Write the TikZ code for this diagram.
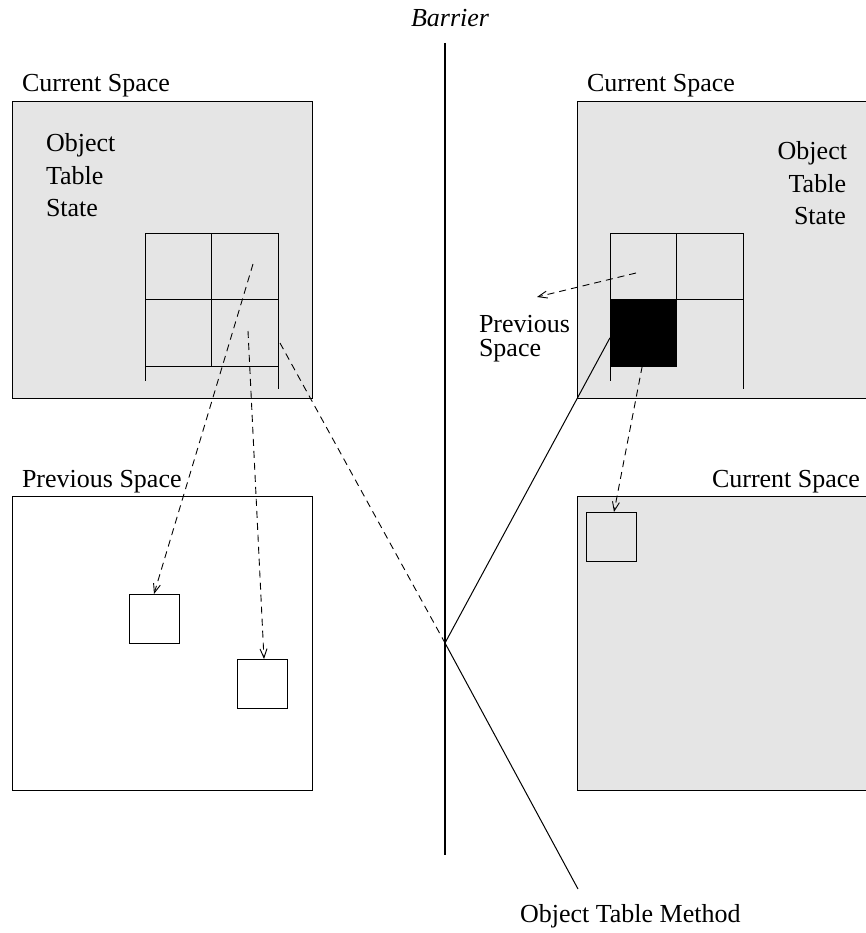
\documentclass[tikz,border=0pt]{standalone}
\usepackage{fontspec}
\setmainfont{Liberation Serif}
\usetikzlibrary{arrows.meta,calc}
\begin{document}
\begin{tikzpicture}[x=1pt,y=-1pt,
 lab/.style={font=\fontsize{26}{30}\selectfont, inner sep=0pt, outer sep=0pt, anchor=base west},
 labr/.style={lab, anchor=base east},
 spacebox/.style={draw=black, line width=1pt, inner sep=0pt, outer sep=0pt, anchor=north west},
 grayspace/.style={spacebox, fill=black!10},
 cell/.style={draw=black, line width=1pt, minimum width=66.5pt, minimum height=66.5pt, inner sep=0pt, outer sep=0pt, anchor=north west},
 objbox/.style={draw=black, line width=1pt, minimum width=50pt, minimum height=49pt, inner sep=0pt, outer sep=0pt, anchor=north west},
 darr/.style={dash pattern=on 7pt off 5pt, line width=0.9pt, -{Straight Barb[length=9pt,width=7pt]}},
 dline/.style={dash pattern=on 7pt off 5pt, line width=0.9pt},
 sline/.style={line width=1pt},
 barrier/.style={line width=1.6pt},
]
\useasboundingbox (0,0) rectangle (866,933);
\clip (0,0) rectangle (866,933);

% spaces
\node[grayspace, minimum width=300pt, minimum height=296pt] (TL) at (12,102) {};
\node[grayspace, minimum width=320pt, minimum height=296pt] (TR) at (577,102) {};
\node[spacebox, minimum width=300pt, minimum height=294pt] (BL) at (12,496) {};
\node[grayspace, minimum width=320pt, minimum height=294pt] (BR) at (577,496) {};

% labels
\node[lab] (tlT) at (22,92) {Current Space};
\node[lab] (trT) at (587,92) {Current Space};
\node[lab] (blT) at (22,487) {Previous Space};
\node[labr] (brT) at (860,487) {Current Space};
\node[lab] (lo1) at (46,152) {Object};
\node[lab] (lo2) at (46,185) {Table};
\node[lab] (lo3) at (46,217) {State};
\node[labr] (ro1) at (847,160) {Object};
\node[labr] (ro2) at (846,192.5) {Table};
\node[labr] (ro3) at (846,225) {State};
\node[lab] (ps1) at (479,332) {Previous};
\node[lab] (ps2) at (479,356) {Space};
\node[lab] (otm) at (520,922) {Object Table Method};
\node[lab, anchor=base, font=\fontsize{26}{30}\selectfont\itshape] (bar) at (450,27) {Barrier};

% left object table
\node[cell] (La) at (145,233) {};
\node[cell] (Lb) at (211.5,233) {};
\node[cell] (Lc) at (145,299.5) {};
\node[cell] (Ld) at (211.5,299.5) {};
\draw[sline] (Lc.south west) -- ++(0,15);
\draw[sline] (Ld.south east) -- ++(0,23);

% right object table
\node[cell] (Ra) at (610,233) {};
\node[cell] (Rb) at (676.5,233) {};
\node[cell, fill=black] (Rk) at (610,299.5) {};
\draw[sline] (Rb.south east) -- ++(0,89);
\draw[sline] (Rk.south west) -- ++(0,15);

% objects
\node[objbox] (o1) at (129,594) {};
\node[objbox] (o2) at (237,659) {};
\node[objbox] (o3) at (586,512) {};

% barrier
\coordinate (B1) at (445,43);
\coordinate (B2) at (445,855);
\draw[barrier] (B1) -- (B2);

% pointers
\coordinate (p1) at (253,264);
\coordinate (p2) at (248,331);
\coordinate (p3) at (636,273);
\coordinate (p3e) at (537,297);
\coordinate (pm) at (280,343);
\coordinate (X) at (445,643);
\coordinate (M) at (578,889);
\draw[darr] (p1) -- (o1.north);
\draw[darr] (p2) -- ([xshift=2pt]o2.north);
\draw[darr] (p3) -- (p3e);
\draw[darr] ([xshift=-1pt]Rk.south) -- ([xshift=3pt]o3.north);
\draw[dline] (pm) -- (X);
\draw[sline] (X) -- (M);
\draw[sline] (X) -- ([yshift=-5pt]Rk.west);
\end{tikzpicture}
\end{document}
